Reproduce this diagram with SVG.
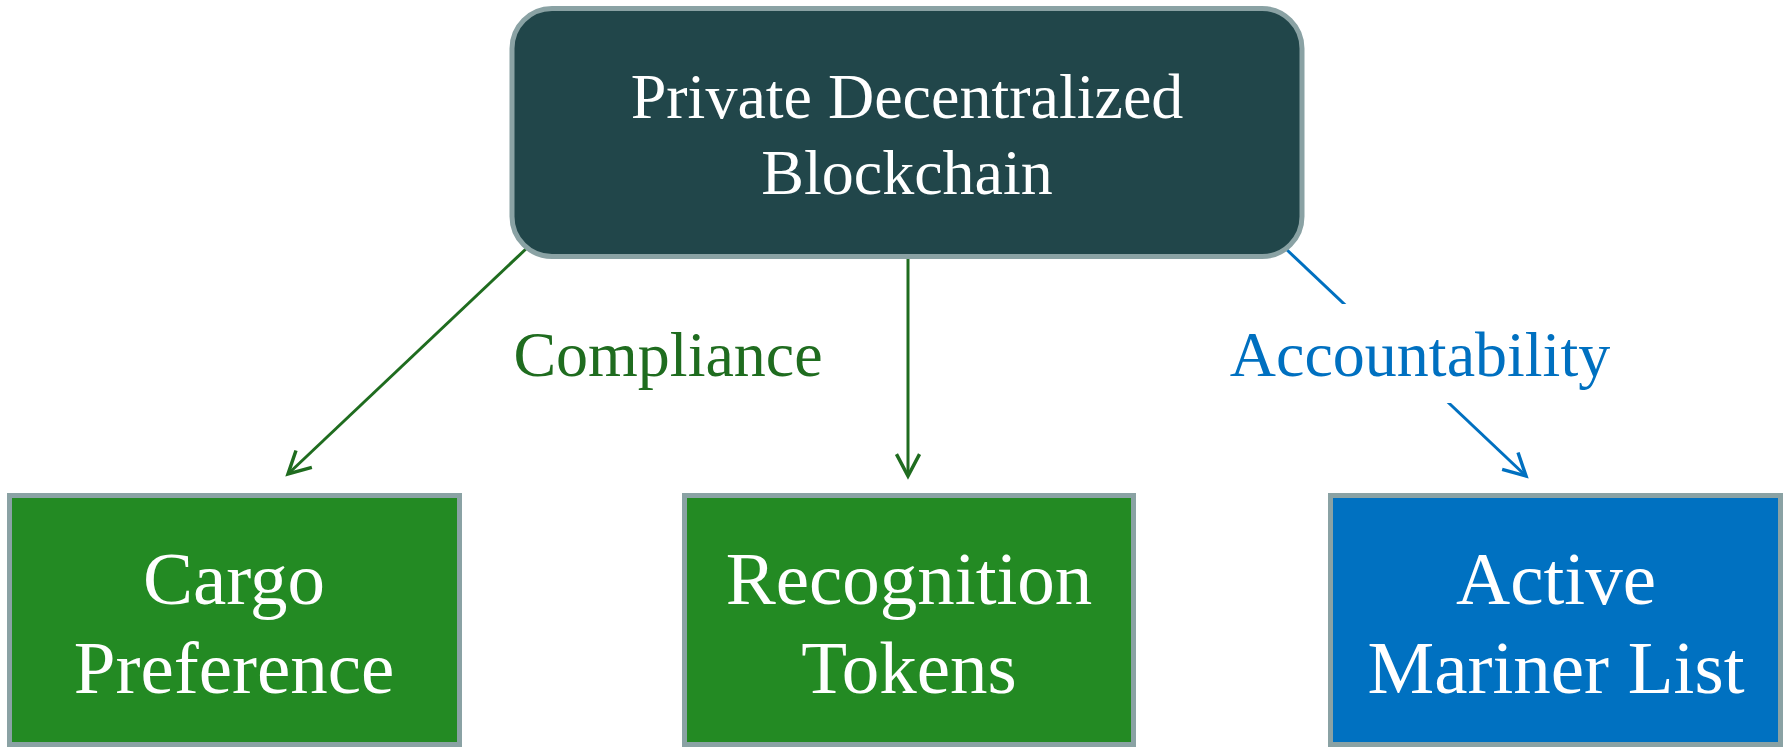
<svg xmlns="http://www.w3.org/2000/svg" width="1790" height="747" viewBox="0 0 1790 747">
<defs>
<style>
.node-border{stroke:#8aa2a4;stroke-width:5}
.top{fill:#21464a}
.green{fill:#238a23}
.blue{fill:#0071c1}
.t{font-family:"Liberation Serif","Times New Roman",serif;fill:#ffffff;text-anchor:middle}
.t64{font-size:64px}
.t75{font-size:75px}
.lbl{font-family:"Liberation Serif","Times New Roman",serif;font-size:64px;text-anchor:middle}
.cg{stroke:#1f6c1f;stroke-width:3;fill:none}
.cb{stroke:#0070c0;stroke-width:3;fill:none}
</style>
<marker id="ag" markerUnits="userSpaceOnUse" markerWidth="30" markerHeight="30" viewBox="-22 -13 26 26" refX="0" refY="0" orient="auto">
<path d="M-19,-10 L0,0 L-19,10" fill="none" stroke="#1f6c1f" stroke-width="3"/>
</marker>
<marker id="ab" markerUnits="userSpaceOnUse" markerWidth="30" markerHeight="30" viewBox="-22 -13 26 26" refX="0" refY="0" orient="auto">
<path d="M-19,-10 L0,0 L-19,10" fill="none" stroke="#0070c0" stroke-width="3"/>
</marker>
</defs>
<rect width="1790" height="747" fill="#ffffff"/>
<g id="connectors">
<line class="cg" x1="528" y1="247" x2="288" y2="474" marker-end="url(#ag)"/>
<line class="cg" x1="908" y1="259" x2="908" y2="476" marker-end="url(#ag)"/>
<line class="cb" x1="1286" y1="249" x2="1526" y2="476" marker-end="url(#ab)"/>
<g id="label-compliance">
<text class="lbl" x="668" y="376" fill="#1f6c1f">Compliance</text>
</g>
<g id="label-accountability">
<rect x="1226" y="304" width="390" height="99" fill="#ffffff"/>
<text class="lbl" x="1420" y="376" fill="#0070c0">Accountability</text>
</g>
</g>
<g id="node-blockchain">
<rect class="top node-border" x="512" y="8.5" width="790" height="248" rx="40" ry="40"/>
<text class="t t64" x="907" y="118">Private Decentralized</text>
<text class="t t64" x="907" y="194">Blockchain</text>
</g>
<g id="node-cargo">
<rect class="green node-border" x="9.5" y="495.5" width="450" height="249"/>
<text class="t t75" x="234" y="604">Cargo</text>
<text class="t t75" x="234" y="693">Preference</text>
</g>
<g id="node-recognition">
<rect class="green node-border" x="684.5" y="495.5" width="449" height="249"/>
<text class="t t75" x="909" y="604">Recognition</text>
<text class="t t75" x="909" y="693">Tokens</text>
</g>
<g id="node-mariner">
<rect class="blue node-border" x="1330.5" y="495.5" width="450" height="249"/>
<text class="t t75" x="1556" y="604">Active</text>
<text class="t t75" x="1556" y="693">Mariner List</text>
</g>
</svg>
